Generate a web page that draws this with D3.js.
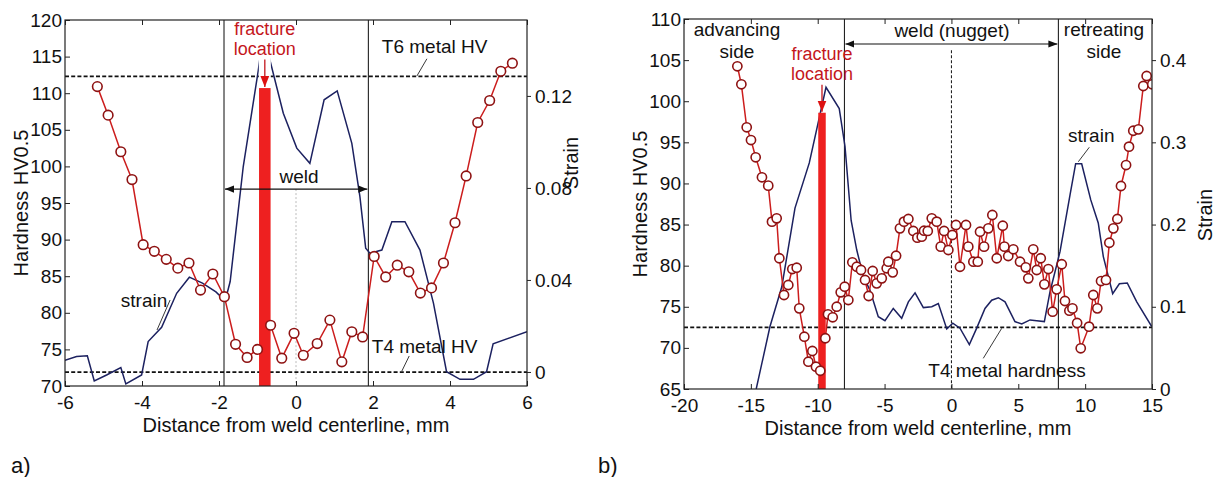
<!DOCTYPE html>
<html>
<head>
<meta charset="utf-8">
<script src="https://cdn.jsdelivr.net/npm/d3@7"></script>
<style>
  body { margin: 0; background: #fff; }
  svg text { font-family: "Liberation Sans", Arial, sans-serif; fill: #111; }
</style>
</head>
<body>
<svg id="chart" width="1215" height="477"></svg>
<script>
// ---- panel a) data ----
const hvDistA = [-5.16, -4.88, -4.55, -4.26, -3.97, -3.68, -3.37, -3.07, -2.78, -2.48, -2.16, -1.86, -1.57, -1.27, -1.00,
    -0.66, -0.37, -0.05, 0.19, 0.55, 0.88, 1.19, 1.45, 1.73, 2.03, 2.33, 2.63, 2.93, 3.23, 3.52, 3.83, 4.13, 4.42, 4.72, 5.03, 5.32, 5.62];
const hvValA = [110.9, 107.0, 102.0, 98.2, 89.3, 88.4, 87.3, 86.1, 86.8, 83.1, 85.3, 82.2, 75.7, 73.9, 75.0,
    78.3, 73.8, 77.2, 74.2, 75.8, 79.0, 73.3, 77.4, 76.7, 87.7, 84.9, 86.5, 85.6, 82.7, 83.4, 86.8, 92.3, 98.7, 106.0, 109.0, 113.0, 114.1];
const strainDistA = [-6, -5.70, -5.42, -5.24, -4.92, -4.55, -4.42, -4.01, -3.84, -3.49, -3.10, -2.77, -2.43, -2.08, -1.84, -1.71,
    -1.37, -0.98, -0.85, -0.68, -0.33, 0.02, 0.36, 0.73, 1.07, 1.45, 1.66, 1.81, 1.92, 2.23, 2.49, 2.83, 3.22, 3.57, 3.91,
    4.26, 4.61, 4.95, 5.12, 6.0];
const strainValA = [0.0051, 0.0067, 0.0070, -0.0039, -0.0013, 0.0019, -0.0052, -0.0013, 0.0132, 0.0194, 0.0342, 0.0412, 0.0386, 0.0348, 0.0309, 0.0393,
    0.0893, 0.131, 0.147, 0.1357, 0.1125, 0.0973, 0.0907, 0.1183, 0.1222, 0.0994, 0.0762, 0.0538, 0.0516, 0.0530, 0.0653, 0.0653, 0.0530, 0.0299, 0.0001,
    -0.0032, -0.0032, 0.0001, 0.0122, 0.0175];
const weldA = [-1.87, 1.88];
const refHvA = [112.3, 71.9];            // T6 and T4 base metal hardness
const fractureA = [-0.81, 0.30, 110.7];  // centre, width, height
const xTicksA = [-6, -4, -2, 0, 2, 4, 6];
const hvTicksA = [70, 75, 80, 85, 90, 95, 100, 105, 110, 115, 120];
const strainTicksA = [0, 0.04, 0.08, 0.12];

// ---- panel b) data ----
const hvDistB = [-16.01, -15.71, -15.31, -14.99, -14.64, -14.17, -13.70, -13.42, -13.07, -12.87, -12.52, -12.20, -11.90, -11.57, -11.38,
    -11.00, -10.70, -10.40, -10.13, -9.81, -9.43, -9.23, -8.88, -8.58, -8.28, -7.98, -7.71, -7.41, -7.08, -6.76, -6.46, -6.19, -5.89,
    -5.59, -5.21, -4.84, -4.72, -4.39, -4.14, -3.85, -3.55, -3.22, -2.85, -2.55, -2.22, -2.05, -1.77, -1.47, -1.10, -0.80, -0.55,
    -0.23, 0.07, 0.34, 0.64, 1.09, 1.26, 1.64, 1.97, 2.14, 2.44, 2.76, 3.06, 3.39, 3.84, 3.96, 4.25, 4.63, 5.13, 5.56, 5.75, 6.12,
    6.38, 6.68, 6.95, 7.25, 7.57, 7.87, 8.25, 8.49, 8.82, 9.05, 9.40, 9.67, 10.29, 10.61, 10.91, 11.19, 11.56, 11.81, 12.11, 12.41,
    12.68, 13.06, 13.28, 13.60, 13.98, 14.35, 14.60, 15.02];
const hvValB = [104.25, 102.06, 96.83, 95.28, 93.18, 90.75, 89.73, 85.35, 85.76, 80.9, 76.43, 77.65, 79.59, 79.75, 74.81,
    71.36, 68.32, 69.62, 67.71, 67.22, 71.17, 74.08, 73.72, 75.01, 76.76, 77.44, 75.82, 80.41, 79.87, 79.47, 78.26, 76.31, 79.35,
    77.85, 78.46, 79.68, 80.48, 79.19, 81.21, 84.54, 85.35, 85.68, 84.22, 83.4, 83.52, 84.25, 84.22, 85.76, 85.35, 82.31, 84.22,
    81.9, 83.73, 84.95, 79.87, 84.95, 82.31, 80.48, 80.48, 84.13, 82.31, 84.54, 86.16, 80.9, 84.86, 82.31, 81.17, 81.99, 80.48, 79.8, 78.46, 81.99,
    79.47, 80.9, 77.73, 79.59, 74.4, 77.12, 80.17, 75.7, 74.52, 74.8, 73.03, 69.95, 72.58, 76.43, 74.81, 78.13, 78.26, 82.79, 84.54, 85.68,
    89.69, 92.24, 94.47, 96.41, 96.58, 101.85, 103.07, 102.06];
const strainDistB = [-14.6, -13.57, -12.69, -11.70, -10.63, -9.38, -8.39, -7.96, -7.5, -7.08, -6.59, -6.09, -5.47, -4.97, -4.35,
    -3.72, -3.22, -2.72, -2.10, -1.47, -0.98, -0.35, 0.10, 0.64, 1.34, 1.89, 2.51, 3.01, 3.51, 4.01, 4.75, 5.26, 5.88, 6.38,
    6.95, 7.37, 8.12, 8.87, 9.29, 9.74, 10.42, 10.98, 11.36, 12.06, 12.56, 13.15, 13.86, 14.98];
const strainValB = [0.0, 0.076, 0.124, 0.22, 0.275, 0.367, 0.341, 0.295, 0.205, 0.169, 0.137, 0.120, 0.088, 0.083, 0.098,
    0.086, 0.106, 0.117, 0.099, 0.100, 0.104, 0.073, 0.080, 0.074, 0.054, 0.074, 0.098, 0.108, 0.111, 0.106, 0.082, 0.079, 0.084, 0.083,
    0.082, 0.118, 0.167, 0.236, 0.274, 0.274, 0.230, 0.202, 0.161, 0.116, 0.128, 0.129, 0.106, 0.076];
const weldB = [-8, 8];
const refHvB = [72.5];
const fractureB = [-9.68, 0.56, 98.6];
const xTicksB = [-20, -15, -10, -5, 0, 5, 10, 15];
const hvTicksB = [65, 70, 75, 80, 85, 90, 95, 100, 105, 110];
const strainTicksB = [0, 0.1, 0.2, 0.3, 0.4];

const svg = d3.select("#chart");
const defs = svg.append("defs");

function addMarker(id, color, size) {
    defs.append("marker")
        .attr("id", id)
        .attr("viewBox", "0 -5 10 10")
        .attr("refX", 10).attr("refY", 0)
        .attr("markerUnits", "userSpaceOnUse")
        .attr("markerWidth", size).attr("markerHeight", size)
        .attr("orient", "auto-start-reverse")
        .append("path")
        .attr("d", "M0,-4L10,0L0,4Z")
        .attr("fill", color);
}
addMarker("arrBlack", "#111", 9);
addMarker("arrRed", "#d11", 11);

const RED_LINE = "#cc1d1d", RED_MARK = "#8e1212", NAVY = "#1c2160", BAR = "#ee2020";
const fmtNum = d => String(+d.toFixed(2));

function drawPanel(p) {
    const x = d3.scaleLinear().domain(p.xDomain).range([p.left, p.right]);
    const y = d3.scaleLinear().domain(p.hvDomain).range([p.bottom, p.top]);
    const ys = d3.scaleLinear().domain(p.strainDomain).range([p.bottom, p.top]);
    const g = svg.append("g");

    defs.append("clipPath").attr("id", p.id + "clip")
        .append("rect")
        .attr("x", p.left).attr("y", p.top)
        .attr("width", p.right - p.left).attr("height", p.bottom - p.top);
    const plot = g.append("g").attr("clip-path", `url(#${p.id}clip)`);

    // weld boundaries
    plot.selectAll(".weld").data(p.weld).enter().append("line")
        .attr("x1", d => x(d)).attr("x2", d => x(d))
        .attr("y1", p.top).attr("y2", p.bottom)
        .attr("stroke", "#222").attr("stroke-width", 1.1);

    // centre line
    plot.append("line")
        .attr("x1", x(0)).attr("x2", x(0))
        .attr("y1", y(p.centreFrom)).attr("y2", p.bottom)
        .attr("stroke", p.centreColor).attr("stroke-width", 1)
        .attr("stroke-dasharray", p.centreDash);

    // base metal hardness references
    plot.selectAll(".ref").data(p.refHv).enter().append("line")
        .attr("x1", p.left).attr("x2", p.right)
        .attr("y1", d => y(d)).attr("y2", d => y(d))
        .attr("stroke", "#111").attr("stroke-width", 1.7)
        .attr("stroke-dasharray", "4,2.2");

    // strain
    const strainLine = d3.line().x(d => x(d[0])).y(d => ys(d[1]));
    plot.append("path")
        .datum(d3.zip(p.strainDist, p.strainVal))
        .attr("d", strainLine)
        .attr("fill", "none").attr("stroke", NAVY).attr("stroke-width", 1.5);

    // hardness line (below the fracture bar)
    const hv = d3.zip(p.hvDist, p.hvVal);
    plot.append("path")
        .datum(hv)
        .attr("d", d3.line().x(d => x(d[0])).y(d => y(d[1])))
        .attr("fill", "none").attr("stroke", RED_LINE).attr("stroke-width", 1.5);

    // fracture bar
    const [fc, fw, fh] = p.fracture;
    plot.append("rect")
        .attr("x", x(fc - fw / 2)).attr("width", x(fc + fw / 2) - x(fc - fw / 2))
        .attr("y", y(fh)).attr("height", p.bottom - y(fh))
        .attr("fill", BAR);

    // markers
    plot.selectAll(".pt").data(hv).enter().append("circle")
        .attr("cx", d => x(d[0])).attr("cy", d => y(d[1]))
        .attr("r", p.markerR)
        .attr("fill", "#fff").attr("stroke", RED_MARK).attr("stroke-width", 1.6);

    // white gap behind fracture label/arrow
    if (p.gapTo) {
        g.append("rect")
            .attr("x", x(fc) - 6).attr("width", 12)
            .attr("y", p.top + 1).attr("height", y(p.gapTo) - p.top - 1)
            .attr("fill", "#fff");
    }

    // fracture label + arrow
    p.fractureText.forEach(t => {
        g.append("text")
            .attr("x", x(fc)).attr("y", y(t[1]))
            .attr("text-anchor", "middle")
            .style("fill", "#c4161c").style("font-size", "18px")
            .text(t[0]);
    });
    g.append("line")
        .attr("x1", x(fc)).attr("x2", x(fc))
        .attr("y1", y(p.fracArrowFrom)).attr("y2", y(fh) - 1)
        .attr("stroke", "#c4161c").attr("stroke-width", 1.3)
        .attr("marker-end", "url(#arrRed)");

    // weld double arrow
    g.append("line")
        .attr("x1", x(p.weld[0]) + 1).attr("x2", x(p.weld[1]) - 1)
        .attr("y1", y(p.weldArrowHv)).attr("y2", y(p.weldArrowHv))
        .attr("stroke", "#111").attr("stroke-width", 1.1)
        .attr("marker-start", "url(#arrBlack)").attr("marker-end", "url(#arrBlack)");

    // annotations
    p.labels.forEach(l => {
        g.append("text")
            .attr("x", x(l.x)).attr("y", y(l.hv))
            .attr("text-anchor", l.anchor || "start")
            .style("font-size", "19px")
            .text(l.text);
    });
    p.leaders.forEach(l => {
        g.append("line")
            .attr("x1", x(l[0])).attr("y1", y(l[1]))
            .attr("x2", x(l[2])).attr("y2", y(l[3]))
            .attr("stroke", "#222").attr("stroke-width", 0.9);
    });

    // axes
    const fontAxis = sel => sel.selectAll("text").style("font-size", "19px").style("fill", "#111");
    const styleTicks = sel => { sel.select(".domain").remove(); sel.selectAll("line").attr("stroke", "#222"); };

    g.append("g").attr("transform", `translate(0,${p.bottom})`)
        .call(d3.axisBottom(x).tickValues(p.xTicks).tickFormat(d => String(d)).tickSize(-5).tickPadding(10))
        .call(styleTicks).call(fontAxis);
    g.append("g").attr("transform", `translate(0,${p.top})`)
        .call(d3.axisTop(x).tickValues(p.xTicks).tickFormat("").tickSize(-5))
        .call(styleTicks);
    g.append("g").attr("transform", `translate(${p.left},0)`)
        .call(d3.axisLeft(y).tickValues(p.hvTicks).tickSize(-5).tickPadding(3))
        .call(styleTicks).call(fontAxis);
    g.append("g").attr("transform", `translate(${p.right},0)`)
        .call(d3.axisRight(ys).tickValues(p.strainTicks).tickFormat(fmtNum).tickSize(4).tickPadding(4))
        .call(styleTicks).call(fontAxis);

    g.append("rect")
        .attr("x", p.left).attr("y", p.top)
        .attr("width", p.right - p.left).attr("height", p.bottom - p.top)
        .attr("fill", "none").attr("stroke", "#222").attr("stroke-width", 1.2);

    // axis titles
    g.append("text")
        .attr("x", (p.left + p.right) / 2).attr("y", p.bottom + 46)
        .attr("text-anchor", "middle").style("font-size", "20px")
        .text("Distance from weld centerline, mm");
    g.append("text")
        .attr("transform", `translate(${p.yTitleX},${(p.top + p.bottom) / 2}) rotate(-90)`)
        .attr("text-anchor", "middle").style("font-size", "20px")
        .text("Hardness HV0.5");
    g.append("text")
        .attr("transform", `translate(${p.sTitleX},${p.sTitleY}) rotate(-90)`)
        .attr("text-anchor", "middle").style("font-size", "20px")
        .text("Strain");
    g.append("text")
        .attr("x", p.tagX).attr("y", 473)
        .style("font-size", "22px")
        .text(p.tag);
}

drawPanel({
    id: "a", tag: "a)", tagX: 11,
    left: 65, right: 527, top: 20, bottom: 386,
    xDomain: [-6, 6], hvDomain: [70, 120], strainDomain: [-0.0061, 0.153],
    hvDist: hvDistA, hvVal: hvValA, strainDist: strainDistA, strainVal: strainValA,
    weld: weldA, refHv: refHvA, fracture: fractureA,
    xTicks: xTicksA, hvTicks: hvTicksA, strainTicks: strainTicksA,
    markerR: 4.8,
    centreFrom: 96.9, centreColor: "#bbb", centreDash: "2,2",
    gapTo: 111.6,
    fractureText: [["fracture", 118.0], ["location", 115.2]],
    fracArrowFrom: 114.6,
    weldArrowHv: 96.9,
    labels: [
        {text: "weld", x: 0.08, hv: 97.7, anchor: "middle"},
        {text: "T6 metal HV", x: 2.23, hv: 115.5},
        {text: "T4 metal HV", x: 1.97, hv: 74.5},
        {text: "strain", x: -4.55, hv: 80.8}
    ],
    leaders: [[3.40, 114.7, 3.14, 112.35], [2.94, 74.1, 2.75, 72.05], [-3.27, 81.75, -3.61, 77.65]],
    yTitleX: 28, sTitleX: 578, sTitleY: 163
});

drawPanel({
    id: "b", tag: "b)", tagX: 598,
    left: 684, right: 1152, top: 19, bottom: 389,
    xDomain: [-20, 15], hvDomain: [65, 110], strainDomain: [0, 0.45],
    hvDist: hvDistB, hvVal: hvValB, strainDist: strainDistB, strainVal: strainValB,
    weld: weldB, refHv: refHvB, fracture: fractureB,
    xTicks: xTicksB, hvTicks: hvTicksB, strainTicks: strainTicksB,
    markerR: 4.6,
    centreFrom: 106.2, centreColor: "#111", centreDash: "3,2",
    gapTo: null,
    fractureText: [["fracture", 105.01], ["location", 102.58]],
    fracArrowFrom: 102.0,
    weldArrowHv: 106.96,
    labels: [
        {text: "advancing", x: -16.04, hv: 107.93, anchor: "middle"},
        {text: "side", x: -16.04, hv: 105.26, anchor: "middle"},
        {text: "retreating", x: 11.41, hv: 107.93, anchor: "middle"},
        {text: "side", x: 11.41, hv: 105.26, anchor: "middle"},
        {text: "weld (nugget)", x: 0.04, hv: 107.8, anchor: "middle"},
        {text: "strain", x: 8.72, hv: 95.08},
        {text: "T4 metal hardness", x: -1.73, hv: 66.5}
    ],
    leaders: [[10.31, 94.4, 9.49, 92.64], [2.38, 68.73, 3.76, 72.38]],
    yTitleX: 647, sTitleX: 1212, sTitleY: 215
});
</script>
</body>
</html>
